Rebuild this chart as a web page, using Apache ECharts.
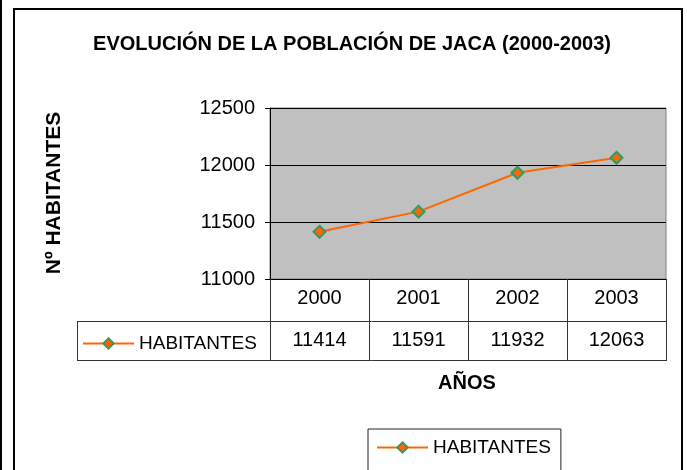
<!DOCTYPE html>
<html>
<head>
<meta charset="utf-8">
<script src="https://cdn.jsdelivr.net/npm/echarts@6/dist/echarts.min.js"></script>
<style>html,body{margin:0;padding:0;background:#fff;}#c{width:687px;height:470px;}</style>
</head>
<body>
<div id="c"></div>
<script>
const years = ['2000', '2001', '2002', '2003'];
const habitantes = [11414, 11591, 11932, 12063];
const yTicks = [11000, 11500, 12000, 12500];
const seriesName = 'HABITANTES';
const titleText = 'EVOLUCIÓN DE LA POBLACIÓN DE JACA (2000-2003)';
const yTitle = 'Nº HABITANTES';
const xTitle = 'AÑOS';

const FONT = '"Liberation Sans", Arial, sans-serif';
const chart = echarts.init(document.getElementById('c'), null, {renderer: 'canvas'});

const legendBase = {
  data: [seriesName],
  itemWidth: 51,
  itemHeight: 13,
  textStyle: {fontFamily: FONT, fontSize: 19, color: '#000'}
};

chart.setOption({
  animation: false,
  backgroundColor: '#fff',
  grid: {
    left: 270, top: 108, width: 396, height: 171,
    show: true, backgroundColor: '#c0c0c0', borderColor: '#808080', borderWidth: 1
  },
  legend: [
    Object.assign({left: 82, top: 334, padding: 0}, legendBase),
    Object.assign({left: 368, top: 429, padding: [9, 10, 20, 8],
      borderColor: '#222', borderWidth: 1}, legendBase)
  ],
  xAxis: [
    {
      type: 'category', data: years, boundaryGap: true,
      axisLine: {lineStyle: {color: '#000', width: 1}},
      axisTick: {show: true, length: 82, lineStyle: {color: '#333'}},
      axisLabel: {fontFamily: FONT, fontSize: 20, color: '#000', margin: 9},
      splitLine: {show: false}
    },
    {
      type: 'category', data: habitantes.map(String), position: 'bottom', offset: 42,
      axisLine: {show: false}, axisTick: {show: false},
      axisLabel: {fontFamily: FONT, fontSize: 20, color: '#000', margin: 9}
    }
  ],
  yAxis: {
    type: 'value', min: yTicks[0], max: yTicks[yTicks.length - 1], interval: 500,
    axisLine: {show: true, lineStyle: {color: '#000'}},
    axisTick: {show: true, length: 5, lineStyle: {color: '#000'}},
    axisLabel: {fontFamily: FONT, fontSize: 20, color: '#000', margin: 15, formatter: v => String(v)},
    splitLine: {show: true, lineStyle: {color: '#000', width: 1}}
  },
  series: [{
    name: seriesName, type: 'line', data: habitantes, xAxisIndex: 0,
    symbol: 'diamond', symbolSize: 12, showSymbol: true,
    lineStyle: {color: '#ff6600', width: 2},
    itemStyle: {color: '#ff6600', borderColor: '#339966', borderWidth: 2}
  }],
  graphic: [
    {type: 'line', shape: {x1: 1, y1: 0, x2: 1, y2: 470}, style: {stroke: '#000', lineWidth: 2}},
    {type: 'rect', shape: {x: 14, y: 9, width: 668, height: 480}, style: {fill: 'none', stroke: '#000', lineWidth: 2}},
    {type: 'line', shape: {x1: 77, y1: 321.5, x2: 666, y2: 321.5}, style: {stroke: '#333', lineWidth: 1}},
    {type: 'line', shape: {x1: 77, y1: 360.5, x2: 666, y2: 360.5}, style: {stroke: '#333', lineWidth: 1}},
    {type: 'line', shape: {x1: 77.5, y1: 321, x2: 77.5, y2: 361}, style: {stroke: '#333', lineWidth: 1}},
    {type: 'text', x: 352, y: 44, style: {text: titleText, font: 'bold 20px ' + FONT, fill: '#000', textAlign: 'center', textVerticalAlign: 'middle'}},
    {type: 'text', x: 54, y: 193, rotation: Math.PI / 2, style: {text: yTitle, font: 'bold 21px ' + FONT, fill: '#000', textAlign: 'center', textVerticalAlign: 'middle'}},
    {type: 'text', x: 467, y: 383, style: {text: xTitle, font: 'bold 20px ' + FONT, fill: '#000', textAlign: 'center', textVerticalAlign: 'middle'}}
  ]
});
</script>
</body>
</html>
